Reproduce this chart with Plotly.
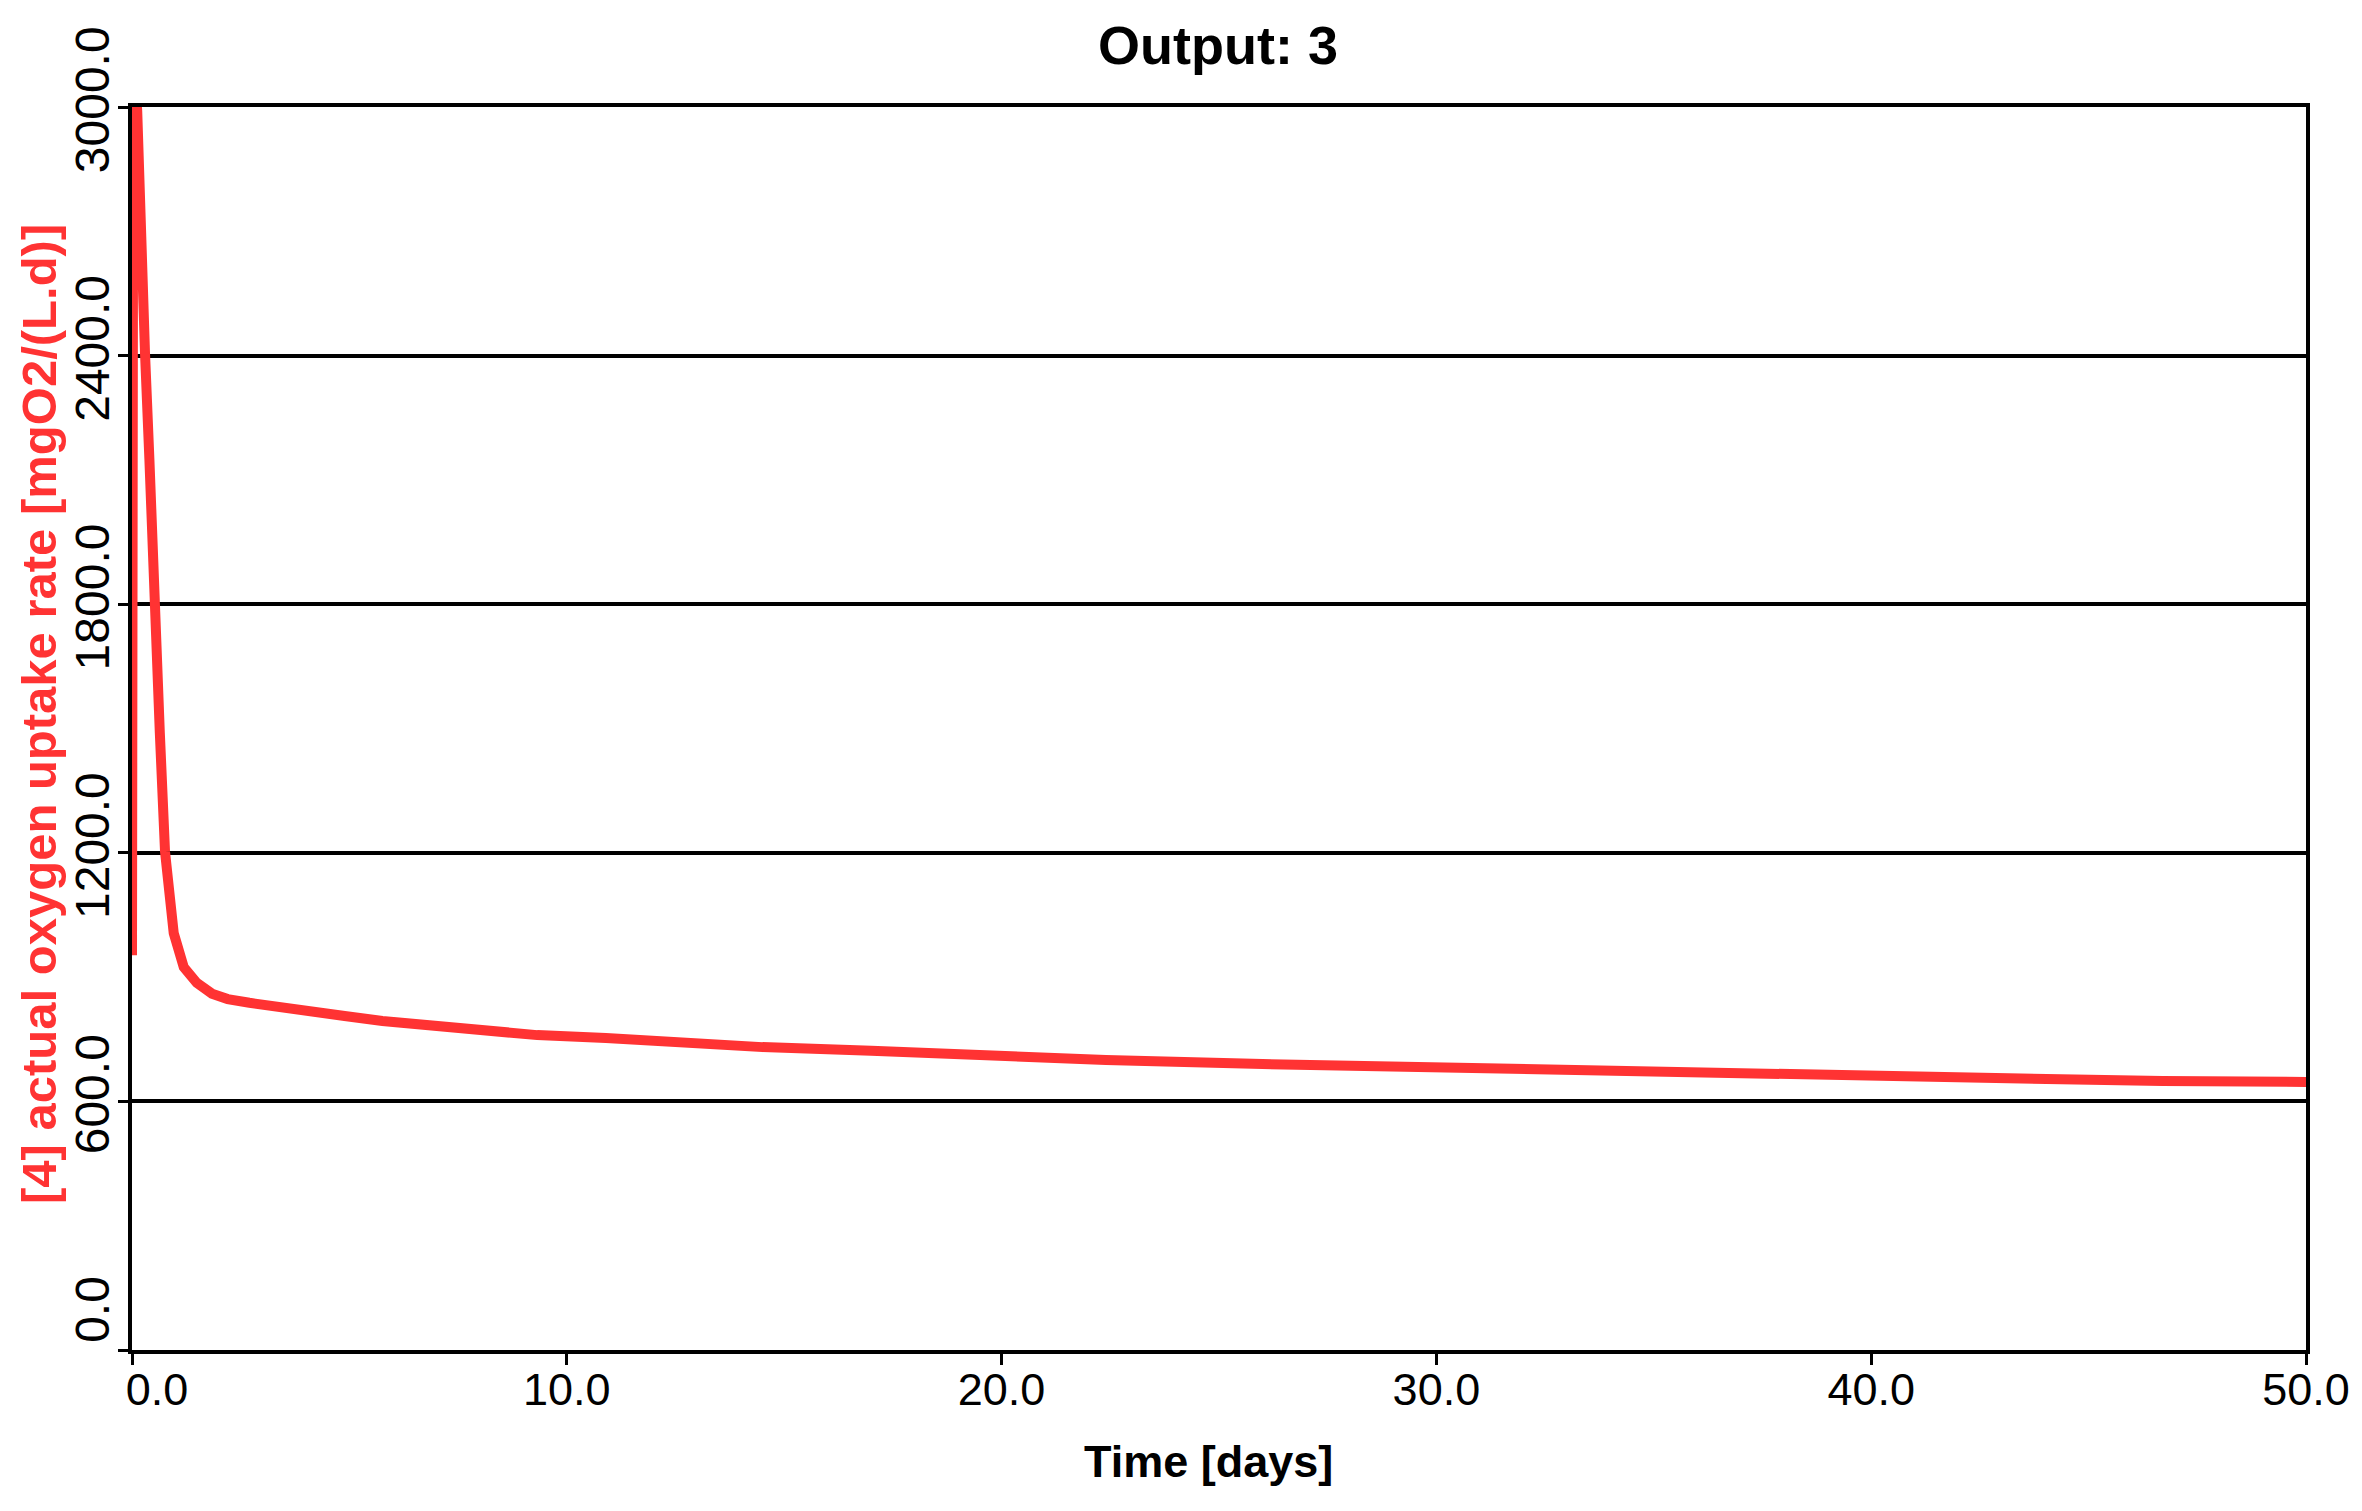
import plotly.graph_objects as go

# Data
time_days = [0.0, 0.03, 0.12, 0.18, 0.25, 0.30, 0.40, 0.50, 0.64, 0.76,
             0.87, 0.96, 1.19, 1.49, 1.84, 2.20, 2.70, 3.28, 4.11, 4.89,
             5.76, 6.88, 8.05, 9.32, 10.9, 12.6, 14.5, 17.0, 19.6, 22.4,
             26.0, 30.2, 34.7, 40.2, 46.7, 50.0]
uptake_rate = [953, 3150, 2990, 2740, 2540, 2404, 2150, 1808, 1489, 1202,
               1086, 1006, 924, 886, 860, 847, 838, 828, 818, 806,
               794, 784, 772, 760, 753, 741, 731, 722, 710, 700,
               690, 681, 669, 659, 649, 647]

x_tick_vals = [0, 10, 20, 30, 40, 50]
x_tick_text = ["\u00a0" * 4 + "0.0", "10.0", "20.0", "30.0", "40.0", "50.0"]
y_tick_vals = [0, 600, 1200, 1800, 2400, 3000]
y_tick_text = ["\u00a0" * 5 + "0.0", "600.0", "1200.0", "1800.0", "2400.0", "3000.0"]

title_text = "Output: 3"
x_title = "Time [days]"
y_title = "[4] actual oxygen uptake rate [mgO2/(L.d)]"

REG = "Liberation Sans, Arial, sans-serif"

fig = go.Figure()
fig.add_trace(go.Scatter(
    x=time_days, y=uptake_rate, mode="lines",
    line=dict(color="#ff3333", width=10),
    showlegend=False, hoverinfo="skip",
))

fig.update_layout(
    width=2354, height=1503, autosize=False,
    margin=dict(l=124, r=51, t=99, b=161),
    paper_bgcolor="white", plot_bgcolor="white",
    title=dict(text="<b>" + title_text + "</b>", x=0.514, xanchor="center",
               y=0.975, yanchor="middle",
               font=dict(family=REG, size=54, color="black")),
    annotations=[
        dict(text="<b>" + x_title + "</b>", xref="paper", yref="paper",
             x=0.4952, y=-0.0901, xanchor="center", yanchor="middle",
             showarrow=False, font=dict(family=REG, size=45, color="black")),
        dict(text="<b>" + y_title + "</b>", xref="paper", yref="paper",
             x=0, xshift=-93, y=0.5117, xanchor="center", yanchor="middle",
             textangle=-90, showarrow=False,
             font=dict(family=REG, size=49, color="#ff3333")),
    ],
)

fig.update_xaxes(
    range=[0, 50], tickmode="array", tickvals=x_tick_vals, ticktext=x_tick_text,
    showgrid=False, zeroline=False,
    showline=True, linecolor="black", linewidth=4, mirror=True,
    ticks="outside", ticklen=11, tickwidth=3, tickcolor="black",
    ticklabelstandoff=-14,
    tickfont=dict(family=REG, size=45, color="black"),
    layer="below traces",
)
fig.update_yaxes(
    range=[0, 3000], tickmode="array", tickvals=y_tick_vals, ticktext=y_tick_text,
    tickangle=-90,
    showgrid=True, gridcolor="black", gridwidth=4, zeroline=False,
    showline=True, linecolor="black", linewidth=4, mirror=True,
    ticks="outside", ticklen=10, tickwidth=3, tickcolor="black",
    ticklabelstandoff=-10,
    tickfont=dict(family=REG, size=48, color="black"),
    layer="below traces",
)

fig.write_html("out.html")
